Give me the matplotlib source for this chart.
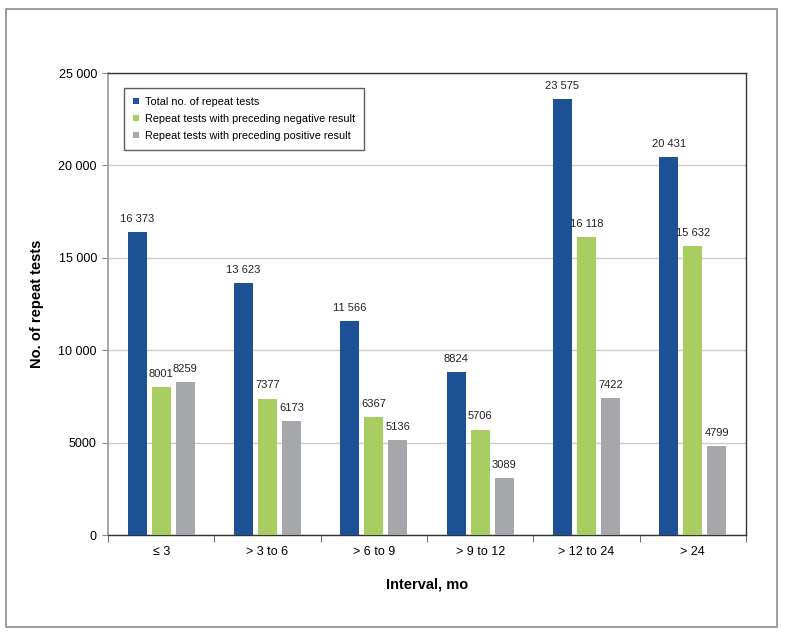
import numpy as np
import matplotlib.pyplot as plt
from matplotlib.patches import Rectangle

categories = ["≤ 3", "> 3 to 6", "> 6 to 9", "> 9 to 12", "> 12 to 24", "> 24"]
total_tests = [16373, 13623, 11566, 8824, 23575, 20431]
negative_prev = [8001, 7377, 6367, 5706, 16118, 15632]
positive_prev = [8259, 6173, 5136, 3089, 7422, 4799]
series_names = [
    "Total no. of repeat tests",
    "Repeat tests with preceding negative result",
    "Repeat tests with preceding positive result",
]
colors = ["#1c5196", "#a8cd60", "#a5a7aa"]


def fmt_num(v):
    # values of 5 digits get a space as thousands separator
    v = int(v)
    if v >= 10000:
        return f"{v:,}".replace(",", " ")
    return str(v)


plt.rcParams["font.family"] = ["Liberation Sans", "DejaVu Sans"]

fig = plt.figure(figsize=(7.91, 6.35), dpi=100)
ax = fig.add_axes([108 / 791, 1 - 535 / 635, (746 - 108) / 791, (535 - 73) / 635])

# outer frame round the whole figure
fig.patches.append(Rectangle((6 / 791, 1 - 627 / 635), 771 / 791, 618 / 635,
                             transform=fig.transFigure, fill=False,
                             edgecolor="#8c8c8c", linewidth=1.2))

x = np.arange(len(categories))
width = 0.178
step = 0.226
all_series = [total_tests, negative_prev, positive_prev]
for i, (vals, name, col) in enumerate(zip(all_series, series_names, colors)):
    pos = x + (i - 1) * step
    bars = ax.bar(pos, vals, width, color=col, label=name, zorder=3)
    for b, v in zip(bars, vals):
        ax.text(b.get_x() + b.get_width() / 2, v + 450, fmt_num(v),
                ha="center", va="bottom", fontsize=8, color="#222222")

ax.set_xlim(-0.5, len(categories) - 0.5)
ax.set_ylim(0, 25000)
ax.set_yticks(range(0, 25001, 5000))
ax.set_yticklabels([fmt_num(v) for v in range(0, 25001, 5000)], fontsize=9)
ax.yaxis.grid(True, color="#cccccc", linewidth=1, zorder=0)
ax.set_axisbelow(True)

ax.set_xticks(x)
ax.set_xticklabels(categories, fontsize=9)
ax.tick_params(axis="x", length=0, pad=8)
ax.set_xticks(np.arange(-0.5, len(categories)), minor=True)
ax.tick_params(axis="x", which="minor", length=5, color="#555555", direction="out")
ax.tick_params(axis="y", length=4, color="#888888", pad=4)

for side in ["top", "right", "bottom"]:
    ax.spines[side].set_color("#333333")
    ax.spines[side].set_linewidth(1)
ax.spines["left"].set_color("#999999")
ax.spines["left"].set_linewidth(1.2)

ax.set_xlabel("Interval, mo", fontsize=10.5, fontweight="bold", labelpad=14)
ax.set_ylabel("No. of repeat tests", fontsize=10.5, fontweight="bold", labelpad=10)

leg = ax.legend(loc="upper left", bbox_to_anchor=(0.02, 0.975), fontsize=7.8,
                frameon=True, fancybox=False, edgecolor="#333333",
                handlelength=0.5, handleheight=0.5, handletextpad=0.6,
                labelspacing=0.65, borderpad=0.85, borderaxespad=0.3)
leg.get_frame().set_linewidth(1)

fig.savefig("out.png", dpi=100)
